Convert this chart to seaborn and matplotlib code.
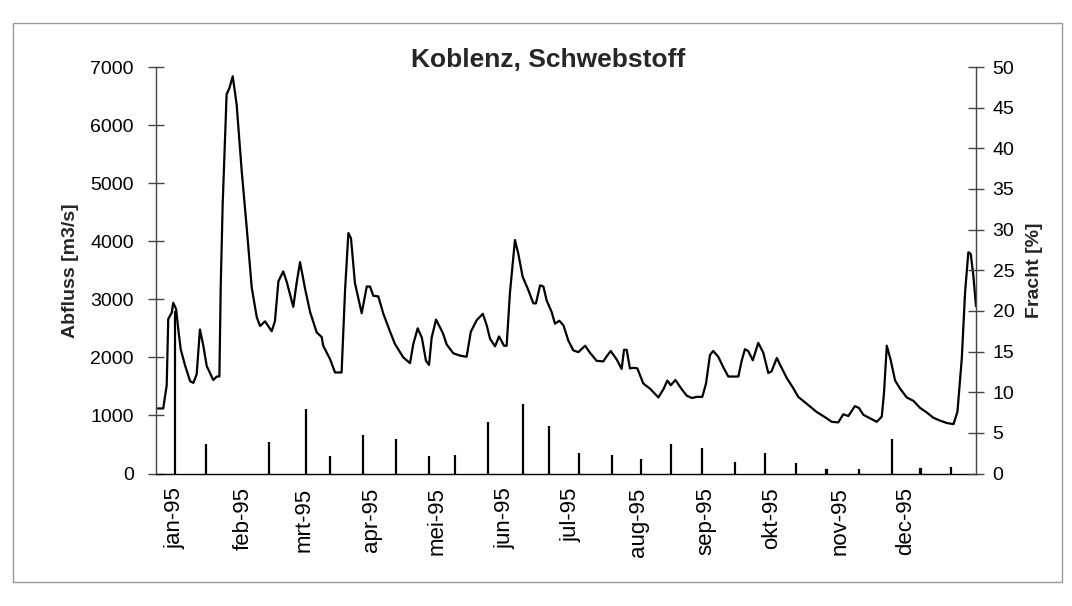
import matplotlib
matplotlib.use("Agg")
import matplotlib.pyplot as plt
import matplotlib.patches as patches
import seaborn as sns

# Abfluss (discharge): day of 1995 (0 = 1 Jan) and m3/s
days = [-8, -5.4, -3.8, -3.1, -1.5, -0.8, 0.5, 1.5, 2.6, 4.6,
        6.9, 8.4, 9.9, 11.4, 13, 14.5, 17.5, 19.1, 20.3, 20.9,
        21.8, 23.6, 24.9, 26.4, 28.2, 30.5, 32.8, 35.1, 37.4, 38.9,
        41.2, 44.2, 45.7, 47.3, 49.5, 51.1, 54.1, 55.7, 57.2, 59.5,
        61.8, 64.8, 67.1, 67.8, 70.9, 73.2, 76.2, 77.8, 79.3, 80.5,
        82.3, 85.4, 87.7, 89.2, 90.7, 93, 95.3, 98.4, 100.6, 104.4,
        107.5, 109, 111, 112.9, 114.8, 116.2, 117.4, 119.4, 122.5, 124.3,
        127.3, 130.4, 133.4, 135.3, 138, 140.8, 142.6, 144.1, 146.4, 148.2,
        150.5, 151.7, 153.2, 155.5, 157, 159, 161.6, 163.9, 165.1, 167,
        168.5, 170, 172.3, 173.8, 175.8, 177.7, 179.9, 182.2, 184.5, 187.6,
        189.8, 192.9, 195.9, 197.5, 199.3, 202.1, 204.3, 205.4, 206.6, 208.1,
        209.7, 211.5, 214.2, 217.3, 221.1, 223.4, 225.2, 226.8, 228.9, 231.8,
        234.1, 236.4, 238.7, 241.2, 242.9, 244.7, 246.2, 248.5, 250.8, 253.1,
        257.7, 259.2, 260.7, 262.2, 264.3, 266.8, 269.1, 271.4, 272.9, 275.3,
        276.8, 279.9, 282.8, 285.1, 289, 293.5, 297.3, 300.4, 303.4, 305.7,
        308, 311, 312.8, 314.9, 317.9, 321, 323.3, 324.3, 325.6, 327.4,
        329.4, 331.7, 334.7, 337.8, 340.8, 343.9, 346.9, 350, 353, 356.1,
        357.9, 359.9, 361.4, 362.9, 364, 365.2, 366.4]
abfluss = [1120, 1120, 1520, 2660, 2770, 2940, 2830, 2480, 2140, 1860,
           1590, 1560, 1710, 2480, 2190, 1850, 1610, 1670, 1670, 3210,
           4640, 6530, 6640, 6840, 6350, 5210, 4230, 3200, 2690, 2540,
           2620, 2450, 2620, 3310, 3480, 3300, 2870, 3300, 3640, 3180,
           2780, 2430, 2350, 2200, 1970, 1740, 1740, 3170, 4140, 4050,
           3280, 2760, 3220, 3220, 3060, 3050, 2750, 2440, 2230, 2000,
           1900, 2230, 2500, 2340, 1940, 1870, 2340, 2650, 2420, 2220,
           2070, 2030, 2010, 2440, 2640, 2750, 2550, 2320, 2190, 2360,
           2200, 2200, 3110, 4020, 3790, 3390, 3160, 2930, 2930, 3240,
           3220, 2980, 2780, 2580, 2630, 2550, 2290, 2120, 2090, 2200,
           2080, 1940, 1930, 2020, 2110, 1960, 1800, 2130, 2130, 1810,
           1820, 1810, 1550, 1460, 1310, 1450, 1600, 1520, 1610, 1450,
           1340, 1300, 1320, 1320, 1550, 2040, 2110, 2010, 1830, 1670,
           1670, 1940, 2140, 2110, 1950, 2250, 2080, 1730, 1760, 1990,
           1870, 1640, 1470, 1320, 1200, 1060, 970, 890, 880, 1020,
           990, 1160, 1130, 1010, 950, 890, 980, 1380, 2200, 1950,
           1600, 1460, 1310, 1250, 1130, 1050, 960, 910, 870, 850,
           1060, 1980, 3120, 3810, 3780, 3400, 2880]

# Fracht (load share, %) sampled about every two weeks
fracht_days = [0, 14, 43, 60, 71, 86, 101, 116, 128, 143, 159, 171, 185,
               200, 213, 227, 241, 256, 270, 284, 298, 313, 328, 341, 355]
fracht = [20, 3.6, 3.9, 7.9, 2.1, 4.7, 4.3, 2.1, 2.3, 6.3, 8.6, 5.9, 2.5,
          2.3, 1.8, 3.6, 3.1, 1.4, 2.5, 1.3, 0.4, 0.5, 4.3, 0.6, 0.8]

month_days = [0, 31, 59, 90, 120, 151, 181, 212, 243, 273, 304, 334]
month_labels = ["jan-95", "feb-95", "mrt-95", "apr-95", "mei-95", "jun-95",
                "jul-95", "aug-95", "sep-95", "okt-95", "nov-95", "dec-95"]

sns.set_theme(style="ticks")
plt.rcParams['font.family'] = ['Liberation Sans', 'DejaVu Sans']

fig = plt.figure(figsize=(10.72, 6.06), dpi=100)
ax = fig.add_axes([156 / 1072, 132.5 / 606, 820 / 1072, 406.5 / 606])

sns.lineplot(x=days, y=abfluss, ax=ax, color='black', linewidth=1.6,
             estimator=None, sort=False)
ax.set_xlim(-8.7, 366.4)
ax.set_ylim(0, 7000)
ax.set_yticks(range(0, 7001, 1000))
ax.set_xticks(month_days)
ax.set_xticklabels(month_labels, rotation=90)
ax.tick_params(axis='x', length=0, pad=10, labelsize=16, colors='black')
ax.tick_params(axis='y', left=True, direction='inout', length=12, width=1,
               color='#444444', labelsize=14, pad=10, labelcolor='black')
ax.set_ylabel('Abfluss [m3/s]', fontsize=14, fontweight='bold', labelpad=8)
ax.set_xlabel('')

ax2 = ax.twinx()
# thin bars: a near-zero width with a fixed edge stroke keeps every bar ~2 px
ax2.bar(fracht_days, fracht, width=0.05, color='black', edgecolor='black',
        linewidth=1.6, zorder=3)
ax2.set_ylim(0, 50)
ax2.set_yticks(range(0, 51, 5))
ax2.tick_params(axis='y', right=True, direction='inout', length=12, width=1,
                color='#444444', labelsize=14, pad=6, labelcolor='black')
ax2.set_ylabel('Fracht [%]', fontsize=14, fontweight='bold', labelpad=8)

for a in (ax, ax2):
    a.grid(False)
    a.spines['top'].set_visible(False)
ax.spines['right'].set_visible(False)
ax2.spines['left'].set_visible(False)
ax2.spines['bottom'].set_visible(False)
ax.spines['left'].set_color('#444444')
ax2.spines['right'].set_color('#444444')
ax.spines['bottom'].set_color('black')
for s in ('left', 'bottom'):
    ax.spines[s].set_linewidth(1)
ax2.spines['right'].set_linewidth(1)

fig.text(548 / 1072, 1 - 60 / 606, 'Koblenz, Schwebstoff', ha='center',
         va='center', fontsize=19, fontweight='bold')

fig.patches.append(patches.Rectangle((13 / 1072, 24 / 606), 1049 / 1072,
                                     559 / 606, transform=fig.transFigure,
                                     fill=False, edgecolor='#999999', lw=1))

fig.savefig('out.png', dpi=100)
